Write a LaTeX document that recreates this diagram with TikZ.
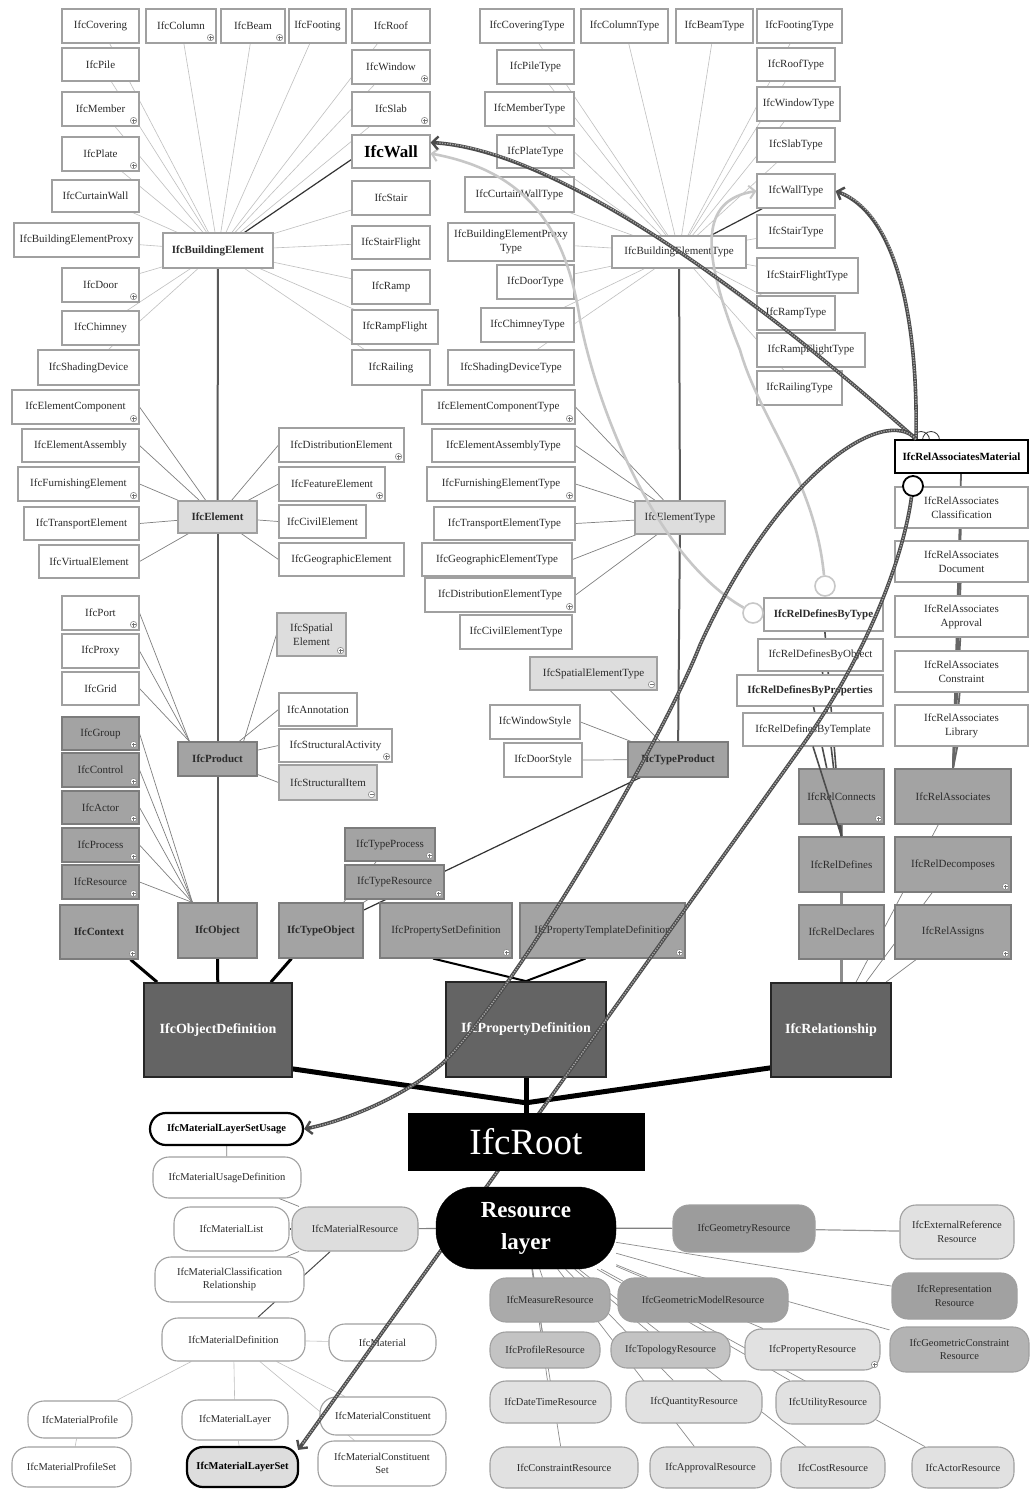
\documentclass[tikz,border=0pt]{standalone}
\usepackage{fontspec}
\setmainfont{Liberation Serif}
\usetikzlibrary{arrows.meta}
\pgfdeclarelayer{bgl}
\pgfsetlayers{bgl,main}

\definecolor{bord}{HTML}{A0A0A0}
\definecolor{txt}{HTML}{2B2B2B}
\definecolor{lg}{HTML}{DDDDDD}
\definecolor{mg}{HTML}{A3A3A3}
\definecolor{mgb}{HTML}{7C7C7C}
\definecolor{dg}{HTML}{646464}
\definecolor{rsA}{HTML}{9C9C9C}
\definecolor{rsB}{HTML}{A1A1A1}
\definecolor{rsC}{HTML}{B3B3B3}
\definecolor{rsD}{HTML}{AAAAAA}
\definecolor{rsE}{HTML}{C3C3C3}
\definecolor{rsF}{HTML}{E1E1E1}

% box from its corner coordinates: name, x1, y1, x2, y2, style, text
\newcommand\mkbox[7]{\node[#6, minimum width={#4-#2}, minimum height={#5-#3}] (#1) at ({(#2+#4)/2},{(#3+#5)/2}) {#7};}
% expand / collapse marks in the lower right corner of a box
\newcommand\pmark[1]{%
  \draw[draw=black!45, fill=white, line width=0.6pt] ([xshift=-6pt,yshift=6pt]#1.south east) circle (3.2pt);
  \draw[black!55, line width=0.6pt] ([xshift=-8pt,yshift=6pt]#1.south east) -- ++(4pt,0pt)
        ([xshift=-6pt,yshift=4pt]#1.south east) -- ++(0pt,4pt);}
\newcommand\mmark[1]{%
  \draw[draw=black!45, fill=white, line width=0.6pt] ([xshift=-6pt,yshift=6pt]#1.south east) circle (3.2pt);
  \draw[black!55, line width=0.6pt] ([xshift=-8pt,yshift=6pt]#1.south east) -- ++(4pt,0pt);}

% highlighted relation paths
\newcommand\cvWall{(cTop) .. controls (760,300) and (560,150) .. ([yshift=9pt]bWall.east)}
\newcommand\cvWallType{(cTop) .. controls (918,330) and (900,215) .. (tyWall.east)}
\newcommand\cvUsage{(cTop) .. controls (885,405) and (780,470) .. (700,645) .. controls (665,735) and (520,985) .. (443,1063) .. controls (400,1100) and (340,1122) .. (mUsage.east)}
\newcommand\cvLayerSet{(cBot) .. controls (903,560) and (866,656) .. (802,746) -- ([xshift=-1pt,yshift=-4pt]mLayerSet.north east)}
\newcommand\cvTypeWall{(gCircA) .. controls (660,560) and (600,420) .. (580,320) .. controls (565,220) and (520,170) .. ([yshift=-2pt]bWall.east)}
\newcommand\cvTypeWallType{(gCircB) .. controls (815,480) and (760,420) .. (740,350) .. controls (700,250) and (700,200) .. (tyWall.west)}

\begin{document}
\begin{tikzpicture}[x=1pt,y=-1pt,
  cbox/.style={draw=bord, line width=1.1pt, fill=white, inner sep=1pt, text=txt, align=center,
               font=\fontsize{11}{14}\selectfont},
  bftxt/.style={font=\fontsize{11}{14}\selectfont\bfseries},
  pbf/.style={font=\fontsize{10.5}{13.5}\selectfont\bfseries},
  cboxm/.style={cbox, fill=mg, draw=mgb},
  cboxd/.style={cbox, fill=dg, draw=black!85, line width=1.8pt, text=white,
                font=\fontsize{14}{16}\selectfont\bfseries},
  cpill/.style={cbox, rounded corners=16pt, font=\fontsize{10.5}{13.5}\selectfont},
  croot/.style={fill=black, draw=black, text=white, inner sep=0pt, font=\fontsize{37}{40}\selectfont},
  cres/.style={fill=black, draw=black, text=white, inner sep=0pt, rounded corners=38pt, align=center,
               font=\fontsize{23}{32}\selectfont\bfseries},
  ringdark/.style={circle, draw=black, line width=1.8pt, fill=white, minimum size=20pt, inner sep=0pt},
  ringlight/.style={circle, draw=black!22, line width=1.6pt, fill=white, minimum size=20pt, inner sep=0pt},
  ringthin/.style={circle, draw=black!80, line width=0.8pt, minimum size=17pt, inner sep=0pt},
  ethin/.style={draw=black!25, line width=0.6pt},
  emed/.style={draw=black!50, line width=0.7pt},
  edk/.style={draw=black!80, line width=1.2pt},
  espine/.style={draw=black!65, line width=2pt},
  eobj/.style={draw=black, line width=3pt},
  eprop/.style={draw=black, line width=2pt},
  eroot/.style={draw=black, line width=5pt},
  erel/.style={draw=black!45, line width=3pt},
  eassoc/.style={draw=black!60, line width=1.8pt},
  eres/.style={draw=black!45, line width=0.7pt},
  hl/.style={draw=black!70, line width=3.6pt, -{Straight Barb[length=6pt,width=13pt,line width=2.4pt]}},
  hlin/.style={draw=black!35, line width=1.4pt, dash pattern=on 1.3pt off 1.3pt, shorten >=7pt},
  lt/.style={draw=black!22, line width=2.6pt, -{Straight Barb[length=6pt,width=13pt,line width=2pt]}}]

\begin{pgfonlayer}{bgl}
  \fill[white] (0,0) rectangle (1030,1492);
\end{pgfonlayer}
\useasboundingbox (0,0) rectangle (1030,1492);

% ---------- IfcBuildingElement and its subtypes
\mkbox{bCovering}{62}{9}{139}{43}{cbox}{IfcCovering}
\mkbox{bColumn}{146}{9}{216}{43}{cbox}{IfcColumn}
\mkbox{bBeam}{221}{9}{285}{43}{cbox}{IfcBeam}
\mkbox{bFooting}{289}{9}{346}{43}{cbox}{IfcFooting}
\mkbox{bRoof}{352}{9}{430}{43}{cbox}{IfcRoof}
\mkbox{bPile}{62}{48}{139}{81}{cbox}{IfcPile}
\mkbox{bWindow}{352}{50}{430}{84}{cbox}{IfcWindow}
\mkbox{bMember}{62}{92}{139}{126}{cbox}{IfcMember}
\mkbox{bSlab}{352}{92}{430}{126}{cbox}{IfcSlab}
\mkbox{bWall}{352}{135}{430}{168}{cbox,text=black,font=\fontsize{17}{19}\selectfont\bfseries}{IfcWall}
\mkbox{bPlate}{62}{137}{139}{171}{cbox}{IfcPlate}
\mkbox{bCurtainWall}{52}{180}{139}{212}{cbox}{IfcCurtainWall}
\mkbox{bStair}{352}{181}{430}{215}{cbox}{IfcStair}
\mkbox{bProxy}{14}{223}{139}{257}{cbox}{IfcBuildingElementProxy}
\mkbox{BE}{163}{233}{273}{268}{cbox,bftxt}{IfcBuildingElement}
\mkbox{bStairFlight}{352}{226}{430}{259}{cbox}{IfcStairFlight}
\mkbox{bDoor}{62}{268}{139}{302}{cbox}{IfcDoor}
\mkbox{bRamp}{352}{270}{430}{304}{cbox}{IfcRamp}
\mkbox{bChimney}{62}{311}{139}{345}{cbox}{IfcChimney}
\mkbox{bRampFlight}{352}{310}{438}{344}{cbox}{IfcRampFlight}
\mkbox{bShading}{38}{350}{139}{385}{cbox}{IfcShadingDevice}
\mkbox{bRailing}{352}{350}{430}{385}{cbox}{IfcRailing}

% ---------- IfcElement
\mkbox{eComp}{12}{390}{139}{424}{cbox}{IfcElementComponent}
\mkbox{eAssembly}{22}{429}{139}{462}{cbox}{IfcElementAssembly}
\mkbox{eFurn}{18}{467}{139}{501}{cbox}{IfcFurnishingElement}
\mkbox{eTransport}{24}{507}{139}{540}{cbox}{IfcTransportElement}
\mkbox{eVirtual}{39}{545}{139}{578}{cbox}{IfcVirtualElement}
\mkbox{Elem}{178}{501}{257}{533}{cbox,fill=lg,bftxt}{IfcElement}
\mkbox{eDistrib}{279}{428}{404}{462}{cbox}{IfcDistributionElement}
\mkbox{eFeature}{279}{467}{385}{501}{cbox}{IfcFeatureElement}
\mkbox{eCivil}{279}{505}{366}{538}{cbox}{IfcCivilElement}
\mkbox{eGeo}{279}{543}{404}{576}{cbox}{IfcGeographicElement}

% ---------- IfcProduct
\mkbox{pPort}{62}{596}{139}{630}{cbox}{IfcPort}
\mkbox{pProxy}{62}{634}{139}{668}{cbox}{IfcProxy}
\mkbox{pGrid}{62}{672}{139}{705}{cbox}{IfcGrid}
\mkbox{pSpatial}{277}{613}{346}{656}{cbox,fill=lg}{IfcSpatial\\Element}
\mkbox{pAnnot}{279}{693}{357}{726}{cbox}{IfcAnnotation}
\mkbox{pStructAct}{279}{729}{392}{762}{cbox}{IfcStructuralActivity}
\mkbox{pStructItem}{279}{765}{377}{800}{cbox,fill=lg}{IfcStructuralItem}
\mkbox{Prod}{178}{742}{257}{776}{cboxm,bftxt}{IfcProduct}

% ---------- IfcObject and IfcTypeObject
\mkbox{oGroup}{62}{717}{139}{750}{cboxm}{IfcGroup}
\mkbox{oControl}{62}{753}{139}{787}{cboxm}{IfcControl}
\mkbox{oActor}{62}{791}{139}{824}{cboxm}{IfcActor}
\mkbox{oProcess}{62}{828}{139}{862}{cboxm}{IfcProcess}
\mkbox{oResource}{62}{865}{139}{899}{cboxm}{IfcResource}
\mkbox{oContext}{60}{905}{138}{959}{cboxm,bftxt}{IfcContext}
\mkbox{Obj}{178}{903}{257}{958}{cboxm,bftxt}{IfcObject}
\mkbox{TypeObj}{279}{903}{363}{958}{cboxm,bftxt}{IfcTypeObject}
\mkbox{ObjDef}{144}{983}{292}{1077}{cboxd}{IfcObjectDefinition}
\mkbox{tProcess}{345}{828}{435}{861}{cboxm}{IfcTypeProcess}
\mkbox{tResource}{345}{865}{444}{899}{cboxm}{IfcTypeResource}
\mkbox{PSetDef}{380}{903}{512}{958}{cboxm}{IfcPropertySetDefinition}
\mkbox{PTplDef}{520}{903}{685}{958}{cboxm}{IfcPropertyTemplateDefinition}
\mkbox{PropDef}{446}{982}{606}{1077}{cboxd}{IfcPropertyDefinition}
\mkbox{Rel}{771}{983}{891}{1077}{cboxd}{IfcRelationship}

% ---------- IfcRelationship subtypes
\mkbox{rConnects}{799}{769}{884}{824}{cboxm}{IfcRelConnects}
\mkbox{rAssociates}{895}{769}{1011}{824}{cboxm}{IfcRelAssociates}
\mkbox{rDefines}{799}{837}{884}{892}{cboxm}{IfcRelDefines}
\mkbox{rDecomposes}{895}{837}{1011}{892}{cboxm}{IfcRelDecomposes}
\mkbox{rDeclares}{799}{905}{884}{959}{cboxm}{IfcRelDeclares}
\mkbox{rAssigns}{895}{905}{1011}{959}{cboxm}{IfcRelAssigns}

% ---------- IfcRelAssociates subtypes
\node[ringthin] (arcA) at (921,440) {};
\node[ringthin] (arcB) at (931,440) {};
\mkbox{aMaterial}{895}{440}{1028}{473}{cbox,draw=black,line width=2pt,text=black,bftxt}{IfcRelAssociatesMaterial}
\mkbox{aClass}{895}{487}{1028}{528}{cbox}{IfcRelAssociates\\Classification}
\mkbox{aDoc}{895}{541}{1028}{582}{cbox}{IfcRelAssociates\\Document}
\mkbox{aAppr}{895}{596}{1028}{637}{cbox}{IfcRelAssociates\\Approval}
\mkbox{aConstr}{895}{651}{1028}{692}{cbox}{IfcRelAssociates\\Constraint}
\mkbox{aLib}{895}{705}{1028}{746}{cbox}{IfcRelAssociates\\Library}
\node[ringdark] (cBot) at (913,486) {};
\coordinate (cTop) at ([xshift=22pt]aMaterial.north west);

% ---------- IfcRelDefines subtypes
\mkbox{dType}{764}{598}{883}{631}{cbox,bftxt}{IfcRelDefinesByType}
\mkbox{dObject}{758}{639}{883}{671}{cbox}{IfcRelDefinesByObject}
\mkbox{dProps}{737}{675}{883}{706}{cbox,bftxt}{IfcRelDefinesByProperties}
\mkbox{dTemplate}{743}{713}{883}{746}{cbox}{IfcRelDefinesByTemplate}
\node[ringlight] (gCircA) at (753,613) {};
\node[ringlight] (gCircB) at (825,586) {};

% ---------- type objects
\mkbox{tyCovering}{480}{9}{574}{43}{cbox}{IfcCoveringType}
\mkbox{tyColumn}{581}{9}{668}{43}{cbox}{IfcColumnType}
\mkbox{tyBeam}{676}{9}{753}{43}{cbox}{IfcBeamType}
\mkbox{tyFooting}{757}{9}{842}{43}{cbox}{IfcFootingType}
\mkbox{tyPile}{497}{50}{574}{84}{cbox}{IfcPileType}
\mkbox{tyRoof}{757}{48}{835}{81}{cbox}{IfcRoofType}
\mkbox{tyMember}{485}{92}{574}{126}{cbox}{IfcMemberType}
\mkbox{tyWindow}{757}{87}{840}{121}{cbox}{IfcWindowType}
\mkbox{tyPlate}{497}{135}{574}{168}{cbox}{IfcPlateType}
\mkbox{tySlab}{757}{128}{835}{162}{cbox}{IfcSlabType}
\mkbox{tyCurtain}{465}{177}{574}{212}{cbox}{IfcCurtainWallType}
\mkbox{tyWall}{757}{174}{835}{208}{cbox}{IfcWallType}
\mkbox{tyProxy}{448}{223}{574}{261}{cbox}{IfcBuildingElementProxy\\Type}
\mkbox{BET}{612}{236}{746}{268}{cbox}{IfcBuildingElementType}
\mkbox{tyStair}{757}{215}{835}{248}{cbox}{IfcStairType}
\mkbox{tyDoor}{497}{265}{574}{299}{cbox}{IfcDoorType}
\mkbox{tyStairFlight}{757}{258}{858}{293}{cbox}{IfcStairFlightType}
\mkbox{tyChimney}{481}{308}{574}{342}{cbox}{IfcChimneyType}
\mkbox{tyRamp}{757}{296}{835}{330}{cbox}{IfcRampType}
\mkbox{tyRampFlight}{757}{333}{865}{367}{cbox}{IfcRampFlightType}
\mkbox{tyShading}{448}{350}{574}{385}{cbox}{IfcShadingDeviceType}
\mkbox{tyRailing}{757}{371}{842}{405}{cbox}{IfcRailingType}

\mkbox{etComp}{422}{390}{575}{424}{cbox}{IfcElementComponentType}
\mkbox{etAssembly}{432}{429}{575}{462}{cbox}{IfcElementAssemblyType}
\mkbox{etFurn}{427}{467}{575}{501}{cbox}{IfcFurnishingElementType}
\mkbox{etTransport}{434}{507}{575}{540}{cbox}{IfcTransportElementType}
\mkbox{etGeo}{422}{543}{572}{576}{cbox}{IfcGeographicElementType}
\mkbox{etDistrib}{425}{578}{575}{612}{cbox}{IfcDistributionElementType}
\mkbox{etCivil}{460}{615}{572}{649}{cbox}{IfcCivilElementType}
\mkbox{ElemType}{635}{501}{725}{534}{cbox,fill=lg}{IfcElementType}
\mkbox{SpatialType}{530}{657}{657}{690}{cbox,fill=lg}{IfcSpatialElementType}
\mkbox{WinStyle}{490}{705}{580}{739}{cbox}{IfcWindowStyle}
\mkbox{DoorStyle}{504}{743}{582}{777}{cbox}{IfcDoorStyle}
\mkbox{TypeProd}{628}{742}{728}{777}{cboxm,bftxt}{IfcTypeProduct}

% ---------- material resources
\mkbox{mUsage}{150}{1113}{303}{1145}{cpill,draw=black,line width=2.2pt,text=black,pbf}{IfcMaterialLayerSetUsage}
\mkbox{mUsageDef}{153}{1157}{301}{1198}{cpill}{IfcMaterialUsageDefinition}
\mkbox{mList}{174}{1207}{289}{1251}{cpill}{IfcMaterialList}
\mkbox{mRes}{292}{1207}{418}{1251}{cpill,fill=lg}{IfcMaterialResource}
\mkbox{mClass}{155}{1257}{304}{1302}{cpill}{IfcMaterialClassification\\Relationship}
\mkbox{mDef}{162}{1318}{305}{1361}{cpill}{IfcMaterialDefinition}
\mkbox{mMat}{329}{1324}{436}{1361}{cpill}{IfcMaterial}
\mkbox{mProfile}{28}{1401}{132}{1438}{cpill}{IfcMaterialProfile}
\mkbox{mLayer}{182}{1400}{288}{1440}{cpill}{IfcMaterialLayer}
\mkbox{mConst}{320}{1397}{446}{1435}{cpill}{IfcMaterialConstituent}
\mkbox{mProfileSet}{12}{1447}{131}{1487}{cpill}{IfcMaterialProfileSet}
\mkbox{mLayerSet}{187}{1447}{298}{1487}{cpill,fill=lg,draw=black,line width=2.2pt,text=black,pbf}{IfcMaterialLayerSet}
\mkbox{mConstSet}{318}{1441}{446}{1486}{cpill}{IfcMaterialConstituent\\Set}

% ---------- other resources
\mkbox{rsGeom}{673}{1205}{815}{1252}{cpill,fill=rsA}{IfcGeometryResource}
\mkbox{rsExtRef}{900}{1205}{1014}{1259}{cpill,fill=rsF}{IfcExternalReference\\Resource}
\mkbox{rsRepr}{892}{1273}{1017}{1319}{cpill,fill=rsB}{IfcRepresentation\\Resource}
\mkbox{rsGeoConstr}{890}{1327}{1029}{1372}{cpill,fill=rsC}{IfcGeometricConstraint\\Resource}
\mkbox{rsMeasure}{490}{1278}{610}{1322}{cpill,fill=rsD}{IfcMeasureResource}
\mkbox{rsGeomModel}{618}{1278}{788}{1322}{cpill,fill=rsB}{IfcGeometricModelResource}
\mkbox{rsProfile}{490}{1332}{600}{1368}{cpill,fill=rsE}{IfcProfileResource}
\mkbox{rsTopo}{611}{1332}{730}{1368}{cpill,fill=rsE}{IfcTopologyResource}
\mkbox{rsProp}{745}{1329}{880}{1370}{cpill,fill=rsF}{IfcPropertyResource}
\mkbox{rsDate}{490}{1381}{611}{1423}{cpill,fill=rsF}{IfcDateTimeResource}
\mkbox{rsQuantity}{626}{1381}{762}{1423}{cpill,fill=rsF}{IfcQuantityResource}
\mkbox{rsUtility}{776}{1381}{880}{1424}{cpill,fill=rsF}{IfcUtilityResource}
\mkbox{rsConstraint}{490}{1447}{638}{1488}{cpill,fill=rsF}{IfcConstraintResource}
\mkbox{rsApproval}{650}{1447}{771}{1488}{cpill,fill=rsF}{IfcApprovalResource}
\mkbox{rsCost}{781}{1447}{885}{1488}{cpill,fill=rsF}{IfcCostResource}
\mkbox{rsActor}{912}{1447}{1014}{1488}{cpill,fill=rsF}{IfcActorResource}

% ---------- expand / collapse marks
\foreach \n in {bColumn,bBeam,bWindow,bMember,bSlab,bPlate,bDoor,eComp,eFurn,eDistrib,eFeature,
  pPort,pSpatial,pStructAct,oGroup,oControl,oActor,oProcess,oResource,oContext,tProcess,tResource,
  PSetDef,PTplDef,rConnects,rDecomposes,rAssigns,etComp,etFurn,etDistrib,rsProp}
  {\pmark{\n}}
\mmark{pStructItem}
\mmark{SpatialType}

% ---------- material layer set path, running behind the root and the resource layer
\draw[hl] \cvLayerSet;
\draw[hlin] \cvLayerSet;

% ---------- root and resource layer
\mkbox{IfcRoot}{408}{1113}{644}{1170}{croot}{IfcRoot}
\mkbox{ResLayer}{436}{1187}{616}{1269}{cres}{Resource\\layer}

% ---------- highlighted paths in front
\draw[lt] \cvTypeWall;
\draw[lt] \cvTypeWallType;
\draw[hl] \cvWall;      \draw[hlin] \cvWall;
\draw[hl] \cvWallType;  \draw[hlin] \cvWallType;
\draw[hl] \cvUsage;     \draw[hlin] \cvUsage;
\draw[draw=black!70, line width=1.6pt] (dTemplate.south) -- (rDefines.north);

% ---------- tree connectors behind the boxes
\begin{pgfonlayer}{bgl}
  \foreach \t in {bCovering,bColumn,bBeam,bFooting,bRoof,bPile,bWindow,bMember,bSlab,bPlate,bCurtainWall,
    bProxy,bStair,bStairFlight,bDoor,bRamp,bChimney,bRampFlight,bShading,bRailing}
    \draw[ethin] (BE) -- (\t);
  \draw[edk] (BE) -- ([yshift=-8pt]bWall.west);
  \draw[espine] (BE) -- (Elem);
  \draw[espine] (Elem) -- (Prod);
  \draw[espine] (Prod) -- (Obj);
  \foreach \t in {eComp,eAssembly,eFurn,eTransport,eVirtual} \draw[emed] (Elem) -- (\t.east);
  \foreach \t in {eDistrib,eFeature,eCivil,eGeo} \draw[emed] (Elem) -- (\t.west);
  \foreach \t in {pPort,pProxy,pGrid} \draw[emed] ([xshift=12pt]Prod.north west) -- (\t.east);
  \draw[emed] ([xshift=-14pt]Prod.north east) -- (pSpatial.west);
  \foreach \t in {pAnnot,pStructAct,pStructItem} \draw[emed] (Prod) -- (\t.west);
  \foreach \t in {oGroup,oControl,oActor,oProcess,oResource} \draw[emed] ([xshift=15pt]Obj.north west) -- (\t.east);
  \draw[eobj] ([xshift=-8pt]oContext.south east) -- ([xshift=14pt]ObjDef.north west);
  \draw[eobj] (Obj) -- (ObjDef);
  \draw[eobj] ([xshift=13pt]TypeObj.south west) -- ([xshift=-22pt]ObjDef.north east);
  \draw[emed] (TypeObj) -- (tProcess);
  \draw[emed] (TypeObj) -- (tResource);
  \draw[edk] (TypeObj) -- (TypeProd);
  \draw[eprop] ([xshift=-13pt]PSetDef.south) -- (PropDef.north);
  \draw[eprop] ([xshift=-17pt]PTplDef.south) -- (PropDef.north);
  \coordinate (hub) at ([yshift=10pt]IfcRoot.north);
  \draw[eroot] ([yshift=9pt]ObjDef.south east) -- (hub);
  \draw[eroot] ([yshift=10pt]Rel.south west) -- (hub);
  \draw[eroot] (PropDef.south) -- (IfcRoot.north);
  % relationship branch
  \foreach \t in {rConnects,rDefines,rDeclares} \draw[erel] (\t) -- (\t |- Rel.north);
  \draw[emed] (rAssociates) -- ([xshift=25pt]Rel.north);
  \draw[emed] (rDecomposes) -- ([xshift=35pt]Rel.north);
  \draw[emed] (rAssigns) -- ([xshift=55pt]Rel.north);
  \foreach \t in {aMaterial,aClass,aDoc,aAppr,aConstr,aLib} \draw[eassoc] (\t) -- (rAssociates.north);
  \foreach \t in {dType,dObject,dProps} \draw[draw=black!70, line width=1.6pt] (\t) -- (rDefines.north);
  % type branch
  \foreach \t in {tyCovering,tyColumn,tyBeam,tyFooting,tyPile,tyRoof,tyMember,tyWindow,tyPlate,tySlab,tyCurtain,
    tyProxy,tyStair,tyDoor,tyStairFlight,tyChimney,tyRamp,tyRampFlight,tyShading,tyRailing}
    \draw[ethin] (BET) -- (\t);
  \draw[edk] (BET) -- ([xshift=6pt]tyWall.south west);
  \foreach \t in {etComp,etAssembly,etFurn,etTransport,etGeo,etDistrib} \draw[emed] (ElemType) -- (\t.east);
  \draw[espine] (TypeProd) -- (ElemType);
  \draw[espine] (ElemType) -- (BET);
  \draw[emed] (TypeProd) -- (SpatialType);
  \draw[emed] (TypeProd) -- (WinStyle.east);
  \draw[emed] (TypeProd) -- (DoorStyle.east);
  % resource layer
  \draw[draw=black!50, line width=1.2pt] (ResLayer) -- (mRes);
  \draw[draw=black!50, line width=1.2pt] (ResLayer) -- (rsGeom);
  \draw[draw=black!40, line width=1.2pt] (rsGeom) -- (rsExtRef);
  \foreach \t in {rsRepr,rsGeoConstr,rsMeasure,rsGeomModel,rsProfile,rsTopo,rsProp,rsDate,rsQuantity,
    rsUtility,rsConstraint,rsApproval,rsCost,rsActor}
    \draw[eres] (ResLayer) -- (\t);
  % material resources
  \draw[emed] (mUsage) -- (mUsageDef);
  \draw[emed] (mUsageDef) -- (mRes);
  \draw[draw=black!70, line width=1.6pt] (mList) -- (mRes);
  \draw[emed] (mClass) -- (mRes);
  \draw[draw=black!70, line width=1pt] (mDef) -- (mRes);
  \draw[ethin] (mDef) -- (mMat);
  \foreach \t in {mProfile,mLayer,mConst,mConstSet} \draw[ethin] (mDef) -- (\t);
  \draw[ethin] (mProfile) -- (mProfileSet);
  \draw[ethin] (mLayer) -- (mLayerSet);
\end{pgfonlayer}
\end{tikzpicture}
\end{document}
